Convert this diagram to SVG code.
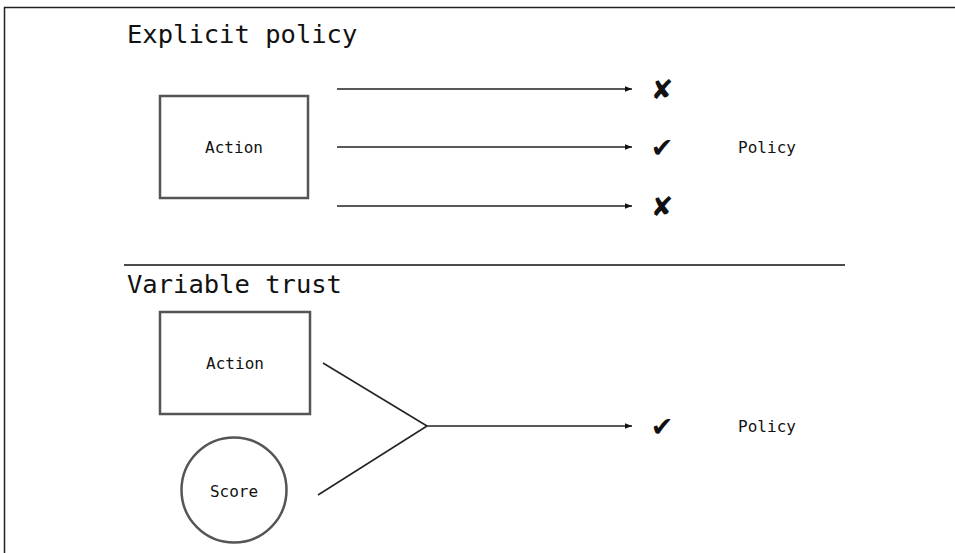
<svg xmlns="http://www.w3.org/2000/svg" width="955" height="553" viewBox="0 0 955 553">
  <style>
    text { font-family: "DejaVu Sans Mono", "Liberation Mono", monospace; fill: #111; }
    .title { font-size: 25.5px; }
    .label { font-size: 16px; text-anchor: middle; dominant-baseline: central; }
    .mark { font-family: "DejaVu Sans", sans-serif; font-size: 27px; text-anchor: middle; dominant-baseline: central; }
    .shape { fill: #fff; stroke: #555; stroke-width: 2.5; }
    .edge { fill: none; stroke: #222; stroke-width: 1.5; }
    .rule { stroke: #111; stroke-width: 1.5; }
  </style>
  <defs>
    <marker id="arrow" viewBox="0 0 10 10" refX="10" refY="5" markerWidth="7" markerHeight="7" markerUnits="userSpaceOnUse" orient="auto">
      <path d="M0,1 L10,5 L0,9 z" fill="#111"/>
    </marker>
  </defs>

  <rect width="955" height="553" fill="#fff"/>
  <!-- page frame (opens past the right and bottom edges) -->
  <path d="M4.5,560 L4.5,7.5 L960,7.5" fill="none" stroke="#222" stroke-width="1.5"/>

  <!-- section: explicit policy -->
  <text class="title" x="127" y="43">Explicit policy</text>

  <g id="action1">
    <rect class="shape" x="160" y="96" width="148" height="102"/>
    <text class="label" x="234" y="147">Action</text>
  </g>

  <g id="outcome-deny-1"><text class="mark" x="662" y="89">✘</text></g>
  <g id="outcome-allow-1"><text class="mark" x="662" y="147">✔</text></g>
  <g id="outcome-deny-2"><text class="mark" x="662" y="206">✘</text></g>
  <g id="policy1"><text class="label" x="767" y="147">Policy</text></g>

  <!-- divider -->
  <line class="rule" x1="124" y1="265" x2="845" y2="265"/>

  <!-- section: variable trust -->
  <text class="title" x="127" y="293">Variable trust</text>

  <g id="action2">
    <rect class="shape" x="160" y="312" width="150" height="102"/>
    <text class="label" x="235" y="363">Action</text>
  </g>

  <g id="score">
    <circle class="shape" cx="234" cy="490" r="52.5"/>
    <text class="label" x="234" y="491">Score</text>
  </g>

  <g id="outcome-allow-2"><text class="mark" x="662" y="426">✔</text></g>
  <g id="policy2"><text class="label" x="767" y="426">Policy</text></g>

  <g id="connectors">
    <line class="edge" x1="337" y1="89" x2="632" y2="89" marker-end="url(#arrow)"/>
    <line class="edge" x1="337" y1="147" x2="632" y2="147" marker-end="url(#arrow)"/>
    <line class="edge" x1="337" y1="206" x2="632" y2="206" marker-end="url(#arrow)"/>
    <line class="edge" x1="323" y1="363" x2="427" y2="426"/>
    <line class="edge" x1="318" y1="495" x2="427" y2="426"/>
    <line class="edge" x1="427" y1="426" x2="632" y2="426" marker-end="url(#arrow)"/>
  </g>
</svg>
